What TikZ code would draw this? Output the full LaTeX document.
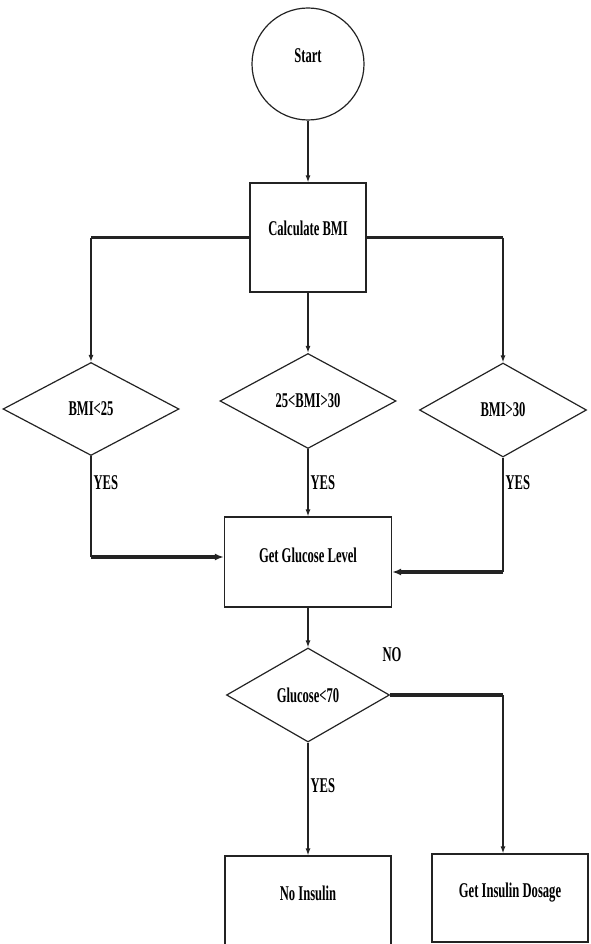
\documentclass[tikz,border=0pt]{standalone}
\usepackage{fontspec}
\setmainfont{Liberation Serif}[FakeStretch=0.6]
\usetikzlibrary{shapes.geometric,arrows.meta,positioning,calc}
\definecolor{flowline}{RGB}{35,35,35}

\begin{document}
\begin{tikzpicture}[x=1pt,y=-1pt,
    every node/.style={font=\fontsize{21}{23}\selectfont\bfseries},
    terminal/.style={draw=flowline, line width=1.2pt, circle, inner sep=0pt, minimum size=112pt},
    box/.style={draw=flowline, line width=1.2pt, rectangle, inner sep=0pt},
    decision/.style={draw=flowline, line width=1.2pt, diamond, inner sep=0pt},
    flow/.style={draw=flowline, line width=1.2pt, -{Latex[length=7pt,width=5pt]}},
    branch/.style={draw=flowline, line width=3.2pt},
    branchin/.style={branch, -{Latex[length=9pt,width=7pt]}},
    tag/.style={anchor=west, inner sep=2pt}
]
    \useasboundingbox (0,0) rectangle (591,944);
    \clip (0,0) rectangle (591,944);

    % Start and BMI
    \node[terminal, text height=13pt, text depth=15pt] (start) at (308,64) {Start};
    \node[box, minimum width=116pt, text height=52pt, text depth=57pt] (bmi) at (308,237.5) {Calculate BMI};

    % BMI classes
    \node[decision, minimum width=176pt, minimum height=93pt] (low) at (91,409) {BMI<25};
    \node[decision, minimum width=176pt, minimum height=95pt] (mid) at (308,401) {25<BMI>30};
    \node[decision, minimum width=167pt, minimum height=94pt] (high) at (503,410) {BMI>30};

    % Glucose
    \node[box, minimum width=167pt, text height=45pt, text depth=45pt] (glucose) at (308,562) {Get Glucose Level};
    \node[decision, minimum width=163pt, minimum height=94pt] (check) at (308,695) {Glucose<70};
    \node (no) at (392,655) {NO};

    % Outcomes
    \node[box, minimum width=166pt, text height=44pt, text depth=56pt] (noins) at (308,906) {No Insulin};
    \node[box, minimum width=156pt, text height=43pt, text depth=45pt] (dose) at (510,898) {Get Insulin Dosage};

    \coordinate (lturn) at (91,237.5);
    \coordinate (rturn) at (503,237.5);
    \coordinate (ljoin) at (91,557);
    \coordinate (rjoin) at (503,572);
    \coordinate (nturn) at (503,695);

    % Connectors
    \draw[flow] (start) -- (bmi);
    \draw[branch] (bmi.west) -- (lturn);
    \draw[flow] (lturn) -- (low.north);
    \draw[branch] (bmi.east) -- (rturn);
    \draw[flow] (rturn) -- (high.north);
    \draw[flow] (bmi) -- (mid);

    \draw[flow, -] (low.south) -- node[tag, pos=0.26] {YES} (ljoin);
    \draw[branchin] (ljoin) -- (ljoin -| glucose.west);
    \draw[flow] (mid) -- node[tag, pos=0.5] {YES} (glucose);
    \draw[flow, -] (high.south) -- node[tag, pos=0.22] {YES} (rjoin);
    \draw[branchin] (rjoin) -- (rjoin -| glucose.east);

    \draw[flow] (glucose) -- (check);
    \draw[flow] (check) -- node[tag, pos=0.38] {YES} (noins);
    \draw[branch] (check.east) -- (nturn);
    \draw[flow] (nturn) -- (nturn |- dose.north);
\end{tikzpicture}
\end{document}
